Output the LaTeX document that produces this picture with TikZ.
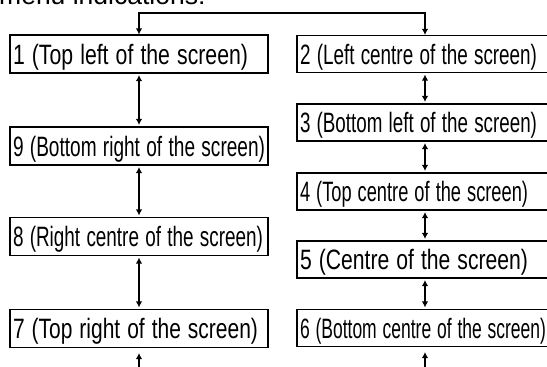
\documentclass[tikz,border=0pt]{standalone}
\usepackage{fontspec}
\usepackage{graphicx}
\setmainfont{Liberation Sans}
\usetikzlibrary{arrows.meta}
\newcommand{\fitw}[2]{\resizebox{#1}{\height}{#2}}
\tikzset{tip/.tip={Latex[length=6pt,width=6.5pt]}}
\begin{document}
\begin{tikzpicture}[x=1pt,y=-1pt,
  font=\fontsize{28}{32}\selectfont,
  lbox/.style={draw,line width=1.1pt,inner xsep=3pt,inner ysep=0pt,
    text height=20pt,text depth=0pt,align=left,minimum height=38pt},
  leftbox/.style={lbox,text width=252pt,minimum width=258pt},
  rightbox/.style={lbox,text width=250pt,minimum width=256pt,minimum height=37pt},
  conn/.style={line width=1.4pt,tip-tip,shorten <=1.5pt,shorten >=1.5pt},
  upconn/.style={line width=1.4pt,-tip,shorten >=5pt}]
\useasboundingbox (0,0) rectangle (547,367);
\node[anchor=base west,inner sep=0pt,font=\fontsize{26.5}{30}\selectfont] (title) at (-1,4.5) {menu indications:};
% left column
\node[leftbox] (b1) at (139,54) {\fitw{235pt}{1 (Top left of the screen)}};
\node[leftbox] (b9) at (139,146) {\fitw{252pt}{9 (Bottom right of the screen)}};
\node[leftbox] (b8) at (139,236.5) {\fitw{250pt}{8 (Right centre of the screen)}};
\node[leftbox] (b7) at (139,328.5) {\fitw{245pt}{7 (Top right of the screen)}};
% right column
\node[rightbox] (b2) at (425,54) {\fitw{237pt}{2 (Left centre of the screen)}};
\node[rightbox] (b3) at (425,122.5) {\fitw{237pt}{3 (Bottom left of the screen)}};
\node[rightbox] (b4) at (425,191.5) {\fitw{228pt}{4 (Top centre of the screen)}};
\node[rightbox] (b5) at (425,259.5) {\fitw{228pt}{5 (Centre of the screen)}};
\node[rightbox] (b6) at (425,328) {\fitw{246pt}{6 (Bottom centre of the screen)}};
% top connector
\coordinate (top) at (280,13);
\draw[line width=1.4pt,tip-tip] (b1.north) |- (top) -| (b2.north);
% vertical connectors
\draw[conn] (b1) -- (b9);
\draw[conn] (b9) -- (b8);
\draw[conn] (b8) -- (b7);
\draw[conn] (b2) -- (b3);
\draw[conn] (b3) -- (b4);
\draw[conn] (b4) -- (b5);
\draw[conn] (b5) -- (b6);
% bottom connectors
\coordinate (e1) at (139,372);
\coordinate (e2) at (425,372);
\draw[upconn] (e1) -- (b7.south);
\draw[upconn] (e2) -- (b6.south);
\end{tikzpicture}
\end{document}
